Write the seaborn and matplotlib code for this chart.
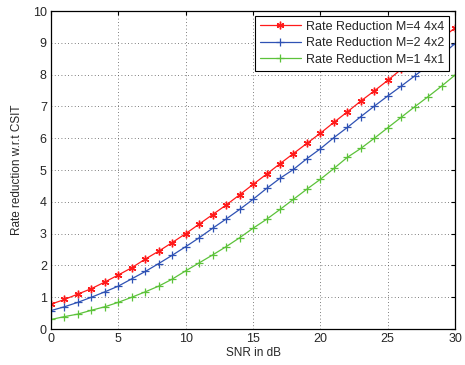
import matplotlib
matplotlib.use('Agg')
import matplotlib.pyplot as plt
import numpy as np
import pandas as pd
import seaborn as sns

snr = list(range(0, 31))

rate_m4 = [0.78, 0.93, 1.10, 1.27, 1.48, 1.70, 1.93, 2.20, 2.45, 2.72,
           3.00, 3.30, 3.60, 3.90, 4.22, 4.55, 4.87, 5.20, 5.52, 5.84,
           6.16, 6.50, 6.83, 7.17, 7.49, 7.82, 8.17, 8.50, 8.83, 9.15, 9.47]

rate_m2 = [0.58, 0.70, 0.84, 1.00, 1.17, 1.35, 1.58, 1.81, 2.06, 2.32,
           2.59, 2.87, 3.17, 3.46, 3.76, 4.08, 4.42, 4.74, 5.02, 5.36,
           5.67, 6.02, 6.34, 6.68, 7.01, 7.33, 7.64, 7.96, 8.29, 8.62, 8.98]

rate_m1 = [0.30, 0.39, 0.47, 0.59, 0.70, 0.84, 1.00, 1.17, 1.35, 1.57,
           1.83, 2.08, 2.33, 2.59, 2.87, 3.17, 3.45, 3.76, 4.08, 4.40,
           4.71, 5.05, 5.40, 5.68, 6.00, 6.33, 6.66, 6.99, 7.31, 7.64, 7.99]

labels = ['Rate Reduction M=4 4x4', 'Rate Reduction M=2 4x2', 'Rate Reduction M=1 4x1']
colors = ['#ff1a1a', '#2f52b4', '#5cc23a']

sns.set_style('white')
plt.rcParams['font.family'] = ['Liberation Sans', 'DejaVu Sans']

fig = plt.figure(figsize=(4.65, 3.65), dpi=100)
ax = fig.add_axes([0.1097, 0.0986, 0.869, 0.871])

# one call per curve, matlab-like asterisk and plus markers
sns.lineplot(x=snr, y=rate_m4, ax=ax, color=colors[0], marker=(6, 2, 0), markersize=5.5,
             markeredgecolor=colors[0], markeredgewidth=1.0, linewidth=0.9, label=labels[0])
sns.lineplot(x=snr, y=rate_m2, ax=ax, color=colors[1], marker='+', markersize=6,
             markeredgecolor=colors[1], markeredgewidth=0.9, linewidth=0.9, label=labels[1])
sns.lineplot(x=snr, y=rate_m1, ax=ax, color=colors[2], marker='+', markersize=6,
             markeredgecolor=colors[2], markeredgewidth=0.9, linewidth=0.9, label=labels[2])

ax.set_xlim(0, 30)
ax.set_ylim(0, 10)
ax.set_xticks(range(0, 31, 5))
ax.set_yticks(range(0, 11))
ax.grid(True, linestyle=(0, (1, 3)), color='#555555', linewidth=0.6)

ax.tick_params(direction='in', length=3, top=True, right=True, labelsize=9, pad=3, color='black')
for s in ax.spines.values():
    s.set_color('black')
    s.set_linewidth(0.9)

ax.set_xlabel('SNR in dB', fontsize=8.5, labelpad=1)
ax.set_ylabel('Rate reduction w.r.t CSIT', fontsize=8.5, labelpad=7)

leg = ax.legend(loc='upper right', bbox_to_anchor=(0.985, 0.985), fontsize=9, fancybox=False,
                framealpha=1, edgecolor='black', borderpad=0.4, labelspacing=0.35,
                handlelength=3.3, handletextpad=0.4, borderaxespad=0)
leg.get_frame().set_linewidth(0.8)

fig.savefig('out.png', dpi=100)
